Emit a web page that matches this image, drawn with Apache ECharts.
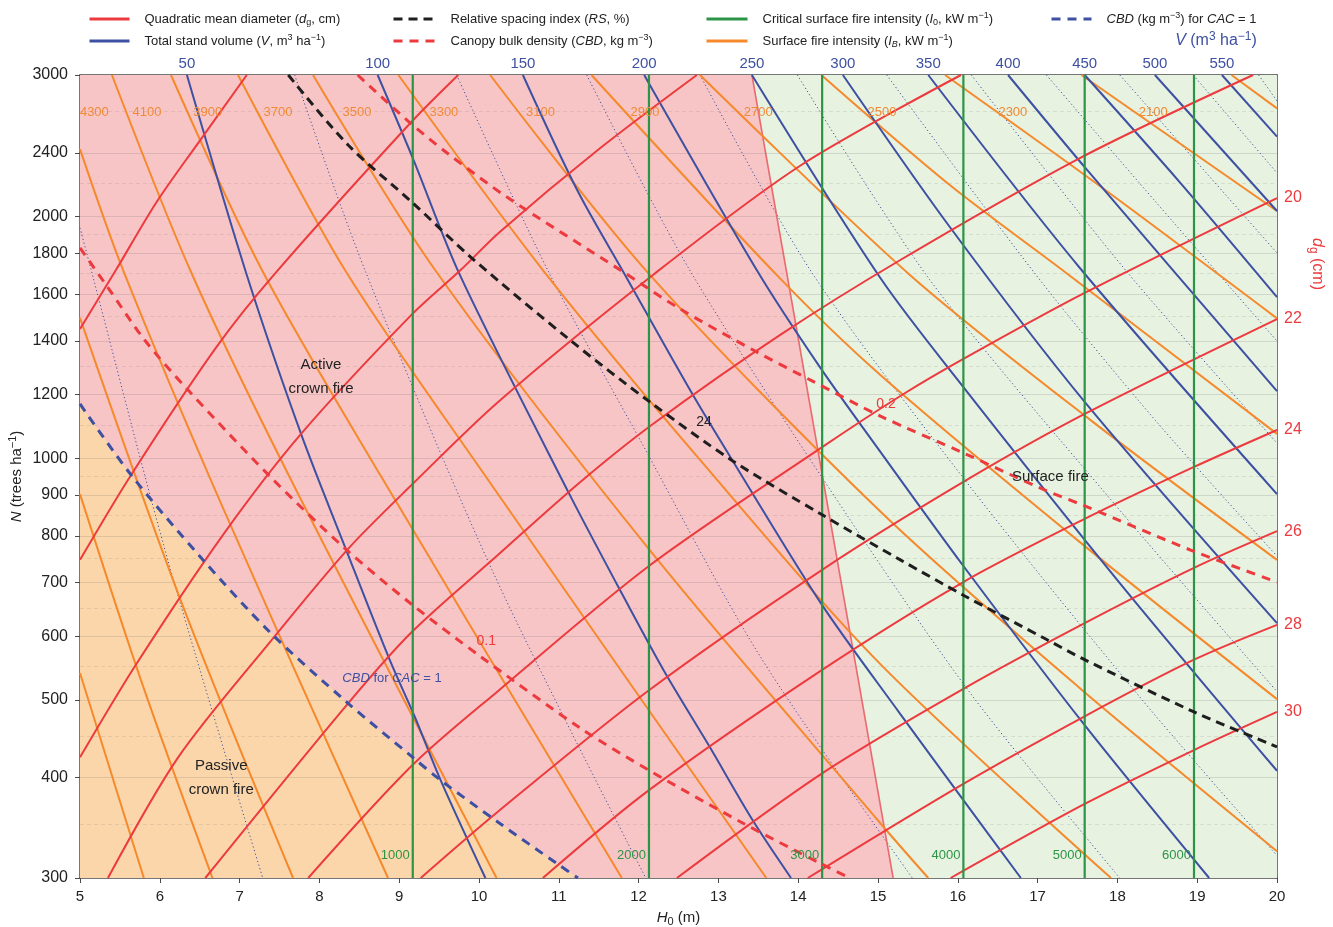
<!DOCTYPE html>
<html><head><meta charset="utf-8">
<script src="https://cdn.jsdelivr.net/npm/echarts@6/dist/echarts.min.js"></script>
<style>html,body{margin:0;padding:0;background:#fff}#c{width:1333px;height:927px}</style>
</head><body><div id="c"></div>
<script>
// ================= DATA (H0 in m, N in trees/ha) =================
const yTicks = [300,400,500,600,700,800,900,1000,1200,1400,1600,1800,2000,2400,3000];
const yMinor = [350,450,550,650,750,850,950,1100,1300,1500,1700,1900,2200,2700];

// Quadratic mean diameter lines (dg, cm)
const dgValues = [10,12,14,16,18,20,22,24,26,28,30];
const dgLines = [
 [[5,1448],[5.45,1715],[5.96,2084],[6.48,2468],[7.09,3000]],
 [[5,747],[5.64,953],[6.70,1371],[7.44,1696],[9.14,2614],[9.74,3000]],
 [[5,424],[5.69,551],[6.79,802],[7.77,1072],[9.15,1507],[9.77,1715],[10.26,1913],[11.52,2433],[12.73,3000]],
 [[5.35,300],[6.23,424],[7.38,590],[8.36,771],[9.17,929],[10.24,1175],[12.18,1691],[14.02,2311],[16.04,3000]],
 [[6.57,300],[8.36,495],[9.17,609],[10.24,758],[11.27,934],[12.18,1103],[13.77,1423],[15.28,1765],[17.53,2364],[19.70,3000]],
 [[7.86,300],[9.17,415],[10.24,513],[12.13,734],[14.30,1032],[15.28,1195],[16.07,1329],[17.59,1606],[20,2108]],
 [[9.27,300],[10.24,363],[12.13,514],[14.30,726],[16.07,934],[17.59,1135],[20,1490]],
 [[10.80,300],[12.13,386],[14.30,545],[16.07,701],[17.59,840],[18.96,975],[20,1084]],
 [[12.48,300],[14.30,405],[16.07,516],[17.59,623],[18.96,730],[20,811]],
 [[14.12,300],[16.07,393],[17.59,477],[18.96,561],[20,620]],
 [[15.91,300],[17.59,371],[18.96,433],[20,483]]
];

// Total stand volume lines (V, m3/ha)
const vValues = [50,100,150,200,250,300,350,400,450,500,550];
const vLines = [
 [[6.34,3000],[7.09,1691],[7.77,1072],[8.33,771],[8.88,561],[9.20,475],[9.52,397],[10.08,300]],
 [[8.73,3000],[9.17,2364],[9.76,1691],[11.12,907],[11.74,693],[12.31,545],[12.89,437],[13.43,354],[13.91,300]],
 [[10.55,3000],[11.23,2157],[11.83,1691],[12.68,1199],[13.18,992],[14.30,656],[15.28,480],[16.07,375],[16.79,300]],
 [[12.07,3000],[13.48,1715],[14.27,1299],[15.03,1018],[16.07,734],[17.59,465],[19.15,300]],
 [[13.42,3000],[15.03,1676],[16.07,1226],[18.03,699],[20,408]],
 [[14.56,3000],[15.90,1940],[17.59,1175],[20,623]],
 [[15.63,3000],[17.53,1725],[20,902]],
 [[16.63,3000],[17.62,2285],[20,1212]],
 [[17.59,3000],[18.78,2207],[20,1587]],
 [[18.47,3000],[20,2031]],
 [[19.31,3000],[20,2514]]
];

// intermediate volume lines (dotted)
const vDotValues = [25,75,125,175,225,275,325,375,425,475,525,575];
const vDotLines = [
 [[5,1935],[5.14,1715],[6.10,747],[7.29,300]],
 [[7.69,3000],[8.57,1715],[10.21,709],[12.09,300]],
 [[9.72,3000],[10.86,1715],[12.02,1053],[13.52,567],[15.43,300]],
 [[11.35,3000],[12.64,1715],[14.65,838],[16.22,500],[18.03,300]],
 [[12.77,3000],[14.15,1715],[16.09,939],[18.31,500],[20,320]],
 [[13.99,3000],[15.65,1667],[17.92,887],[20,512]],
 [[15.11,3000],[16.98,1691],[18.47,1116],[20,755]],
 [[16.17,3000],[18.10,1715],[20,1044]],
 [[17.11,3000],[18.46,2096],[20,1399]],
 [[18.03,3000],[20,1801]],
 [[18.95,3000],[20,2265]],
 [[19.77,3000],[20,2785]]
];

// Surface fire intensity lines (IB, kW/m)
const ibValues = [4900,4700,4500,4300,4100,3900,3700,3500,3300,3100,2900,2700,2500,2300,2100,1900];
const ibLines = [
 [[5,540],[5.80,300]],
 [[5,902],[5.79,520],[6.66,300]],
 [[5,1495],[6.25,670],[7.67,300]],
 [[5,2426],[5.54,1715],[6.82,854],[8.86,300]],
 [[5.40,3000],[6.38,1715],[7.62,950],[10.22,300]],
 [[6.14,3000],[7.28,1715],[8.77,950],[11.79,300]],
 [[6.98,3000],[8.32,1715],[10.08,950],[13.60,300]],
 [[7.92,3000],[9.45,1715],[12.14,768],[15.03,351],[15.63,300]],
 [[8.99,3000],[10.80,1715],[12.77,995],[15.03,554],[17.92,300]],
 [[10.14,3000],[12.11,1705],[15.03,858],[17.53,517],[20,324]],
 [[11.41,3000],[13.73,1691],[15.03,1269],[17.53,786],[20,501]],
 [[12.77,3000],[15.40,1691],[17.66,1116],[20,747]],
 [[14.29,3000],[15.90,2188],[17.31,1715],[20,1072]],
 [[15.84,3000],[17.78,2182],[20,1493]],
 [[17.55,3000],[20,2031]],
 [[19.43,3000],[20,2726]]
];
const ibLabelValues = [4300,4100,3900,3700,3500,3300,3100,2900,2700,2500,2300,2100];
const ibLabelH = [5.18,5.84,6.60,7.48,8.47,9.56,10.77,12.08,13.50,15.05,16.69,18.45];
const ibLabelN = 2691;

// Critical surface fire intensity (I0, kW/m): vertical lines at H0
const i0Values = [1000,2000,3000,4000,5000,6000];
const i0H = [9.17,12.13,14.30,16.07,17.59,18.96];

// Canopy bulk density lines (CBD, kg/m3)
const cbdValues = [0.1,0.2];
const cbdLines = [
 [[5,1827],[5.35,1631],[5.81,1403],[6.32,1226],[7.38,949],[8.32,772],[9.17,656],[10.01,567],[11.27,461],[12.14,408],[13.31,351],[14.30,312],[14.65,300]],
 [[8.48,3000],[9.14,2614],[9.60,2399],[10.35,2114],[11.77,1715],[12.52,1534],[13.48,1356],[14.18,1247],[15.03,1128],[16.07,1015],[17.03,918],[17.59,872],[18.95,766],[20,701]]
];
const cbdLabelAt = [[10.09,592],[15.10,1168]];

// Relative spacing index RS = 24 %
const rsValue = 24;
const rsLine = [[7.61,3000],[8.36,2454],[9.17,2079],[9.91,1775],[11.14,1403],[12.14,1175],[13.18,992],[14.30,850],[15.28,747],[16.07,675],[17.12,594],[17.59,561],[18.96,483],[20,437]];
const rsLabelAt = [12.82,1109];

// CBD for CAC = 1
const cacLine = [[5,1168],[5.64,953],[6.52,751],[7.38,607],[8.33,498],[9.17,424],[9.52,397],[10.24,352],[10.99,312],[11.24,300]];

// active / surface fire boundary
const boundaryLine = [[13.42,3000],[15.19,300]];

// ================= STYLE =================
const FONT = '"Liberation Sans", Arial, Helvetica, sans-serif';
const C = {red:'#EC3A3E', blue:'#3E50A2', orange:'#F5892B', green:'#2C9446', black:'#1E1E1E',
  pink:'#F8C5C6', peach:'#FCD6AB', mint:'#E7F2E1', bound:'#E96B70', axis:'#4a4a4a', text:'#222'};

function rich(fs, color, lh){
  const base = {fontFamily:FONT, color:color, fill:color};
  const small = Math.round(fs*0.72);
  const L = lh || (fs+4);
  return {
    i:Object.assign({}, base, {fontSize:fs, fontStyle:'italic', lineHeight:L}),
    sub:Object.assign({}, base, {fontSize:small, verticalAlign:'bottom', lineHeight:L}),
    isub:Object.assign({}, base, {fontSize:small, fontStyle:'italic', verticalAlign:'bottom', lineHeight:L}),
    sup:Object.assign({}, base, {fontSize:small, verticalAlign:'top', lineHeight:L})
  };
}

const series = [];
function addLine(name, data, color, width, type, z, smooth){
  series.push({type:'line', name, data, symbol:'none', showSymbol:false, silent:true, clip:true,
    smooth: smooth === undefined ? (data.length > 2 ? 0.3 : false) : smooth,
    lineStyle:{color, width, type}, itemStyle:{color}, z, animation:false});
}

// regions
const passiveRegion = cacLine.concat([[5,300]]);
const activeRegion = [[5,3000],[boundaryLine[0][0],3000],[boundaryLine[1][0],300],[5,300]];
const surfaceRegion = [[boundaryLine[0][0],3000],[20,3000],[20,300],[boundaryLine[1][0],300]];
const regions = [[surfaceRegion,C.mint],[activeRegion,C.pink],[passiveRegion,C.peach]];
series.push({type:'custom', name:'regions', silent:true, z:1, animation:false,
  data: regions.map((r,i)=>[r[0][0][0], r[0][0][1], i]),
  renderItem:(params, api)=>{
    const r = regions[params.dataIndex];
    return {type:'polygon', shape:{points:r[0].map(p=>api.coord(p))}, style:{fill:r[1]}};
  }});

// grid lines
series.push({type:'line', name:'grid', data:[], symbol:'none', silent:true, z:2, animation:false,
  markLine:{silent:true, symbol:['none','none'], label:{show:false}, animation:false,
    data: yTicks.slice(1,-1).map(v=>({yAxis:v, lineStyle:{color:'rgba(110,110,110,0.2)', width:1, type:'solid'}}))
      .concat(yMinor.map(v=>({yAxis:v, lineStyle:{color:'rgba(110,110,110,0.15)', width:1, type:[4,3]}})))}});

vDotLines.forEach(l=>addLine('Vdot', l, C.blue, 1, [1.2,2.6], 3));
addLine('boundary', boundaryLine, C.bound, 1.6, 'solid', 4);
ibLines.forEach(l=>addLine('IB', l, C.orange, 2, 'solid', 5));
vLines.forEach(l=>addLine('V', l, C.blue, 2, 'solid', 6));
dgLines.forEach(l=>addLine('dg', l, C.red, 2, 'solid', 7));
i0H.forEach(h=>addLine('I0', [[h,300],[h,3000]], C.green, 2.2, 'solid', 8));
cbdLines.forEach(l=>addLine('CBD', l, C.red, 3, [9,7], 9));
addLine('RS', rsLine, C.black, 3, [9,6], 10);
addLine('CAC', cacLine, C.blue, 3, [9,7], 10);

// annotations
const annotations = [];
annotations.push({at:[8.02,1262], text:'Active\ncrown fire', color:C.text, size:15, align:'center'});
annotations.push({at:[6.77,400], text:'Passive\ncrown fire', color:C.text, size:15, align:'center'});
annotations.push({at:[17.16,947], text:'Surface fire', color:C.text, size:15, align:'center'});
annotations.push({at:[8.91,532], text:'{i|CBD} for {i|CAC} = 1', color:C.blue, size:13, align:'center'});
cbdValues.forEach((v,i)=>annotations.push({at:cbdLabelAt[i], text:String(v), color:C.red, size:14, align:'center'}));
annotations.push({at:rsLabelAt, text:String(rsValue), color:C.text, size:14, align:'center'});
ibLabelValues.forEach((v,i)=>annotations.push({at:[ibLabelH[i], ibLabelN], text:String(v), color:'#F08A34', size:13, align:'center'}));
i0Values.forEach((v,i)=>annotations.push({at:[i0H[i], 320], text:String(v), color:C.green, size:13, align:'right', dx:-3}));

series.push({type:'custom', name:'annotations', silent:true, z:20, animation:false, clip:true,
  data: annotations.map((a,i)=>[a.at[0], a.at[1], i]),
  renderItem:(params, api)=>{
    const a = annotations[params.dataIndex];
    const p = api.coord(a.at);
    return {type:'text', x:p[0] + (a.dx||0), y:p[1], z2:10,
      style:{text:a.text, fill:a.color, fontSize:a.size, fontFamily:FONT, align:a.align,
        verticalAlign:'middle', lineHeight:a.size+9, rich:rich(a.size, a.color, a.size+9)}};
  }});

// legend
const legendDefs = [
  {name:'dg', left:88, top:11, w:40, text:'Quadratic mean diameter ({i|d}{sub|g}, cm)'},
  {name:'V', left:88, top:33, w:40, text:'Total stand volume ({i|V}, m{sup|3} ha{sup|−1})'},
  {name:'RS', left:392, top:11, w:42, text:'Relative spacing index ({i|RS}, %)'},
  {name:'CBD', left:392, top:33, w:42, text:'Canopy bulk density ({i|CBD}, kg m{sup|−3})'},
  {name:'I0', left:705, top:11, w:41, text:'Critical surface fire intensity ({i|I}{sub|0}, kW m{sup|−1})'},
  {name:'IB', left:705, top:33, w:41, text:'Surface fire intensity ({i|I}{isub|B}, kW m{sup|−1})'},
  {name:'CAC', left:1050, top:11, w:40, text:'{i|CBD} (kg m{sup|−3}) for {i|CAC} = 1'}
];
const legend = legendDefs.map(d=>({
  data:[d.name], left:d.left, top:d.top, itemWidth:d.w, itemHeight:14, padding:0, itemGap:0,
  selectedMode:false, formatter:()=>d.text,
  itemStyle:{opacity:0, color:'rgba(0,0,0,0)', borderWidth:0},
  lineStyle:{width:3},
  textStyle:{fontSize:13, color:C.text, fontFamily:FONT, lineHeight:16, padding:[0,0,0,10], rich:rich(13, C.text, 16)}
}));

const vTopH = vLines.map(l=>l[0][0]);
const dgRightN = dgLines.filter(l=>l[l.length-1][0]===20).map(l=>l[l.length-1][1]);
const dgRightV = dgLines.map((l,i)=>l[l.length-1][0]===20 ? dgValues[i] : null).filter(v=>v!==null);
function nearestIdx(arr, v){let b=0;arr.forEach((a,i)=>{if(Math.abs(a-v)<Math.abs(arr[b]-v))b=i;});return b;}

const option = {
  backgroundColor:'#fff', animation:false,
  textStyle:{fontFamily:FONT},
  grid:{left:80, top:75, right:56, bottom:49, containLabel:false, outerBoundsMode:'none'},
  legend,
  xAxis:[
    {type:'value', min:5, max:20, interval:1, position:'bottom',
     axisLine:{show:true, onZero:false, lineStyle:{color:C.axis, width:1.5}},
     axisTick:{show:true, length:5, lineStyle:{color:C.axis}},
     axisLabel:{fontSize:15, color:C.text, margin:11, fontFamily:FONT},
     splitLine:{show:false},
     name:'{i|H}{sub|0} (m)', nameLocation:'middle', nameGap:30,
     nameTextStyle:{fontSize:15, color:C.text, fontFamily:FONT, rich:rich(15, C.text)}},
    {type:'value', min:5, max:20, position:'top',
     axisLine:{show:true, onZero:false, lineStyle:{color:C.axis, width:1.5}},
     axisTick:{show:false},
     axisLabel:{show:true, customValues:vTopH, fontSize:15, color:C.blue, margin:4, fontFamily:FONT,
       formatter:(v)=>String(vValues[nearestIdx(vTopH, v)])},
     splitLine:{show:false}}
  ],
  yAxis:[
    {type:'log', logBase:10, min:300, max:3000, position:'left',
     axisLine:{show:true, onZero:false, lineStyle:{color:C.axis, width:1.5}},
     axisTick:{show:true, length:5, customValues:yTicks, lineStyle:{color:C.axis}},
     axisLabel:{customValues:yTicks, fontSize:16, color:C.text, margin:12, fontFamily:FONT,
       formatter:(v)=>String(Math.round(v))},
     splitLine:{show:false}, minorTick:{show:false}, minorSplitLine:{show:false},
     name:'{i|N} (trees ha{sup|−1})', nameLocation:'middle', nameGap:54, nameRotate:90, nameMoveOverlap:false,
     nameTextStyle:{fontSize:15, color:C.text, fontFamily:FONT, rich:rich(15, C.text)}},
    {type:'log', logBase:10, min:300, max:3000, position:'right',
     axisLine:{show:true, onZero:false, lineStyle:{color:C.axis, width:1.5}},
     axisTick:{show:false},
     axisLabel:{customValues:dgRightN, fontSize:16, color:C.red, margin:7, fontFamily:FONT,
       formatter:(v)=>String(dgRightV[nearestIdx(dgRightN, v)])},
     splitLine:{show:false}, minorTick:{show:false}}
  ],
  graphic:[
    {type:'text', x:1216, y:41, z:50, style:{text:'{i|V} (m{sup|3} ha{sup|−1})', fill:C.blue, fontSize:16,
      fontFamily:FONT, align:'center', verticalAlign:'middle', rich:rich(16, C.blue)}},
    {type:'text', x:1317, y:264, rotation:-Math.PI/2, z:50, style:{text:'{i|d}{sub|g} (cm)', fill:C.red, fontSize:16,
      fontFamily:FONT, align:'center', verticalAlign:'middle', rich:rich(16, C.red)}}
  ],
  series
};

const chart = echarts.init(document.getElementById('c'), null, {renderer:'canvas'});
chart.setOption(option);
</script>
</body></html>
